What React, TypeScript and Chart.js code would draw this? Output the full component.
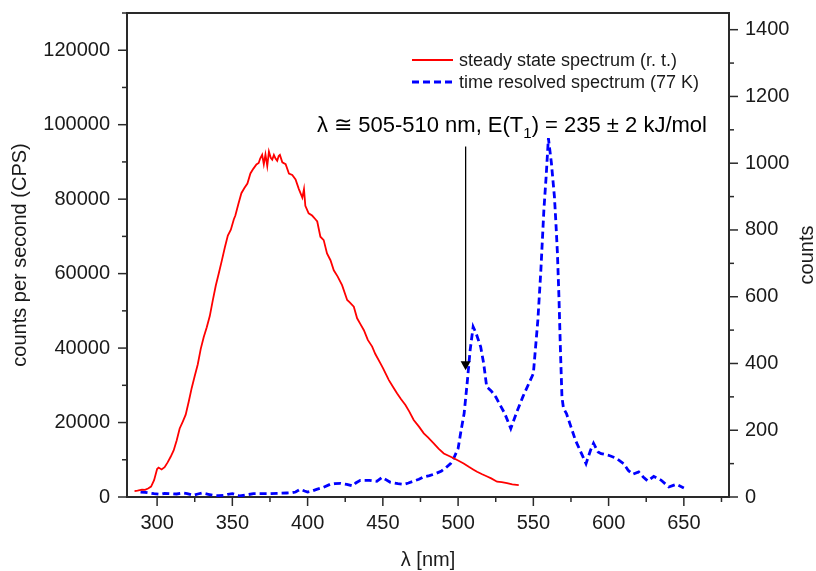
import React, { useEffect, useRef } from "react";
import { Chart, registerables } from "chart.js";

Chart.register(...registerables);

// ---- data ----
const steadyWavelengths = [
  285, 287, 290, 292, 294, 296, 298, 300, 301, 303, 305, 307, 309, 311, 313, 315, 317, 319, 321, 323,
  325, 327, 329, 331, 333, 335, 337, 339, 341, 343, 345, 347, 349, 351, 352, 354, 356, 358, 360, 362,
  364, 366, 367.5, 368.5, 369.8, 370.9, 372, 373.2, 374.3, 375.5, 376.5, 377.6, 378.7, 379.8, 380.8, 381.6, 383.2, 385.4, 387.6, 389.8,
  392, 394.2, 396.5, 397.6, 398.5, 400.7, 403, 405.2, 406.4, 408.5, 410.7, 412.9, 415.2, 417.4, 420, 422.9, 426.3, 428, 430.7, 432.9,
  435, 437.4, 440, 442.9, 445, 448.4, 450, 451.8, 454, 457, 459.5, 462, 465, 467.5, 470.5, 474, 477.2, 480, 483.8, 487,
  490.5, 494, 497.1, 500, 503.7, 507.1, 510, 512.6, 516, 519.3, 522, 525.9, 529, 532.5, 536, 540.3,
];
const steadyCounts = [
  1600, 1700, 2000, 1900, 2300, 2800, 4500, 7500, 7900, 7400, 8000, 9300, 10800, 12500, 15200, 18400, 20200, 22100, 25600, 29300,
  32500, 35600, 39800, 43000, 45600, 48600, 52800, 56800, 60100, 63500, 67000, 70200, 71800, 74600, 75600, 78700, 81600, 83000, 84200, 86900,
  88200, 89300, 89700, 90900, 91900, 89400, 92000, 88900, 92800, 91100, 90600, 91900, 90900, 90300, 91600, 91900, 89900, 89400, 86900, 86500,
  85300, 82700, 80400, 82700, 78200, 76200, 75600, 74600, 74000, 69900, 69000, 65400, 63600, 60900, 59200, 56900, 52900, 52300, 51100, 48000,
  46500, 44800, 42200, 40400, 38400, 35900, 34700, 33200, 31400, 29400, 27800, 26300, 24700, 23000, 20700, 18900, 17100, 16000, 14400, 13000,
  11700, 11000, 10400, 9800, 9000, 8100, 7400, 6800, 6100, 5500, 5000, 4100, 4000, 3700, 3400, 3200,
];

const resolvedWavelengths = [
  289, 292, 295, 298, 302, 305, 309, 313, 317, 320, 324, 327, 330, 334, 337, 341, 344, 347, 350, 353,
  355, 359, 364, 370, 375, 380, 386, 390, 392, 395, 398, 400, 403, 406, 410, 415, 418, 422, 426, 430,
  432, 435, 441, 446, 449.5, 452, 455, 460, 464, 467, 470, 474, 477, 481, 485, 489, 492, 495, 497, 500,
  502, 504, 506, 508, 510, 512, 515, 517, 519, 522, 525, 528, 531, 535, 539, 543, 547, 550, 553, 555,
  557, 558.5, 560, 562, 564, 565, 566, 567, 568, 569, 570, 572, 575, 578, 581, 583, 585, 588, 590, 593,
  595, 600, 605, 610, 613, 616, 620, 623, 626, 630, 635, 640, 643, 645, 650,
];
const resolvedCounts = [
  15, 14, 12, 10, 8, 11, 10, 9, 12, 10, 5, 9, 12, 8, 5, 4, 5, 8, 10, 6,
  3, 6, 10, 10, 10, 11, 12, 13, 15, 23, 18, 15, 18, 23, 28, 38, 40, 41, 38, 33,
  42, 50, 50, 47, 59, 52, 44, 40, 38, 42, 47, 53, 60, 64, 70, 78, 88, 100, 115, 145,
  200, 250, 340, 440, 510, 490, 450, 400, 330, 318, 300, 275, 250, 205, 255, 300, 340, 370, 530, 680,
  860, 960, 1075, 1000, 900, 820, 730, 600, 440, 300, 266, 250, 210, 170, 140, 120, 100, 140, 161, 135,
  130, 125, 116, 100, 80, 68, 75, 60, 48, 62, 50, 30, 35, 38, 27,
];

const xMajorTicks = [300, 350, 400, 450, 500, 550, 600, 650];
const xMinorTicks = [325, 375, 425, 475, 525, 575, 625, 675];
const leftMajorTicks = [0, 20000, 40000, 60000, 80000, 100000, 120000];
const leftMinorTicks = [10000, 30000, 50000, 70000, 90000, 110000, 130000];
const rightMajorTicks = [0, 200, 400, 600, 800, 1000, 1200, 1400];
const rightMinorTicks = [100, 300, 500, 700, 900, 1100, 1300];

const seriesLabels = ["steady state spectrum (r. t.)", "time resolved spectrum (77 K)"];
const annotationParts = ["λ ≅ 505-510 nm, E(T", "1", ") = 235 ± 2 kJ/mol"];
const arrowWavelength = 505;
const arrowFromCounts = 1050;
const arrowToCounts = 380;

const FONT = "'Liberation Sans', Arial, Helvetica, sans-serif";
const INK = "#1a1a1a";
const AXIS = "#2a2a2a";

const buildTicks = (major: number[], minor: number[]) => (scale: any) => {
  scale.ticks = [...major, ...minor].sort((a, b) => a - b).map((v) => ({ value: v }));
};

const fixWidth = (w: number | null, h: number | null) => (scale: any) => {
  if (w !== null) scale.width = w;
  if (h !== null) scale.height = h;
  scale.paddingTop = 0;
  scale.paddingBottom = 0;
  scale.paddingLeft = 0;
  scale.paddingRight = 0;
};

const framePlugin = {
  id: "frame",
  afterDatasetsDraw(chart: any) {
    const ctx = chart.ctx;
    const area = chart.chartArea;
    const sx = chart.scales.x;
    const sy = chart.scales.y;
    const sy1 = chart.scales.y1;
    ctx.save();
    // top frame line
    ctx.strokeStyle = AXIS;
    ctx.lineWidth = 2;
    ctx.beginPath();
    ctx.moveTo(area.left - 1, area.top);
    ctx.lineTo(area.right + 1, area.top);
    ctx.stroke();
    // tick marks
    const drawTicks = (scale: any, major: number[], dir: string) => {
      scale.ticks.forEach((t: any) => {
        const isMajor = major.includes(t.value);
        const len = isMajor ? 9 : 5;
        const p = scale.getPixelForValue(t.value);
        ctx.beginPath();
        if (dir === "down") {
          ctx.moveTo(p, area.bottom);
          ctx.lineTo(p, area.bottom + len);
        } else if (dir === "left") {
          ctx.moveTo(area.left, p);
          ctx.lineTo(area.left - len, p);
        } else {
          ctx.moveTo(area.right, p);
          ctx.lineTo(area.right + len, p);
        }
        ctx.stroke();
      });
    };
    ctx.lineWidth = 1.5;
    drawTicks(sx, xMajorTicks, "down");
    drawTicks(sy, leftMajorTicks, "left");
    drawTicks(sy1, rightMajorTicks, "right");

    // right axis title (reads bottom to top)
    ctx.fillStyle = INK;
    ctx.font = `20px ${FONT}`;
    ctx.textAlign = "center";
    ctx.textBaseline = "middle";
    ctx.translate(sy1.right - 9, (area.top + area.bottom) / 2);
    ctx.rotate(-Math.PI / 2);
    ctx.fillText("counts", 0, 0);
    ctx.restore();

    // legend
    ctx.save();
    ctx.font = `18px ${FONT}`;
    ctx.textAlign = "left";
    ctx.textBaseline = "middle";
    chart.data.datasets.forEach((ds: any, i: number) => {
      const y = 60 + i * 22;
      ctx.strokeStyle = ds.borderColor;
      ctx.lineWidth = ds.borderWidth;
      ctx.setLineDash(ds.borderDash || []);
      ctx.beginPath();
      ctx.moveTo(412, y);
      ctx.lineTo(453, y);
      ctx.stroke();
      ctx.setLineDash([]);
      ctx.fillStyle = INK;
      ctx.fillText(ds.label, 459, y + 1);
    });
    ctx.restore();

    // annotation text
    ctx.save();
    ctx.fillStyle = "#000";
    ctx.textAlign = "left";
    ctx.textBaseline = "alphabetic";
    let x = 317;
    const base = 132;
    ctx.font = `22px ${FONT}`;
    ctx.fillText(annotationParts[0], x, base);
    x += ctx.measureText(annotationParts[0]).width;
    ctx.font = `15px ${FONT}`;
    ctx.fillText(annotationParts[1], x, base + 6);
    x += ctx.measureText(annotationParts[1]).width;
    ctx.font = `22px ${FONT}`;
    ctx.fillText(annotationParts[2], x, base);

    // arrow
    const ax = sx.getPixelForValue(arrowWavelength);
    const ay0 = sy1.getPixelForValue(arrowFromCounts);
    const ay1 = sy1.getPixelForValue(arrowToCounts);
    ctx.strokeStyle = "#000";
    ctx.lineWidth = 1.3;
    ctx.beginPath();
    ctx.moveTo(ax, ay0);
    ctx.lineTo(ax, ay1 - 8);
    ctx.stroke();
    ctx.fillStyle = "#000";
    ctx.beginPath();
    ctx.moveTo(ax - 5, ay1 - 9);
    ctx.lineTo(ax + 5, ay1 - 9);
    ctx.lineTo(ax, ay1);
    ctx.closePath();
    ctx.fill();
    ctx.restore();
  },
};

export default function App() {
  const canvasRef = useRef<HTMLCanvasElement | null>(null);

  useEffect(() => {
    if (!canvasRef.current) return;
    const tickFont = { family: FONT, size: 20 };
    const chart = new Chart(canvasRef.current, {
      type: "line",
      data: {
        datasets: [
          {
            label: seriesLabels[0],
            data: steadyWavelengths.map((w, i) => ({ x: w, y: steadyCounts[i] })),
            borderColor: "#ff0000",
            borderWidth: 1.8,
            pointRadius: 0,
            tension: 0,
            yAxisID: "y",
          },
          {
            label: seriesLabels[1],
            data: resolvedWavelengths.map((w, i) => ({ x: w, y: resolvedCounts[i] })),
            borderColor: "#0000ff",
            borderWidth: 2.8,
            borderDash: [7, 4],
            pointRadius: 0,
            tension: 0,
            yAxisID: "y1",
          },
        ],
      },
      options: {
        responsive: false,
        animation: false,
        layout: { padding: { top: 13, left: 0, right: 0, bottom: 0 } },
        plugins: { legend: { display: false }, tooltip: { enabled: false } },
        scales: {
          x: {
            type: "linear",
            min: 280,
            max: 680,
            afterBuildTicks: buildTicks(xMajorTicks, xMinorTicks),
            afterFit: fixWidth(null, 74),
            grid: { display: false, drawTicks: false },
            border: { display: true, color: AXIS, width: 2 },
            ticks: {
              autoSkip: false,
              maxRotation: 0,
              padding: 14,
              color: INK,
              font: tickFont,
              callback: (v: any) => (xMajorTicks.includes(v) ? String(v) : ""),
            },
            title: { display: true, text: "λ [nm]", color: INK, font: tickFont, padding: { top: 0, bottom: -1 } },
          },
          y: {
            type: "linear",
            position: "left",
            min: 0,
            max: 130000,
            afterBuildTicks: buildTicks(leftMajorTicks, leftMinorTicks),
            afterFit: fixWidth(127, null),
            grid: { display: false, drawTicks: false },
            border: { display: true, color: AXIS, width: 2 },
            ticks: {
              autoSkip: false,
              padding: 17,
              color: INK,
              font: tickFont,
              callback: (v: any) => (leftMajorTicks.includes(v) ? String(v) : ""),
            },
            title: {
              display: true,
              text: "counts per second (CPS)",
              color: INK,
              font: tickFont,
              padding: { top: 8, bottom: 0 },
            },
          },
          y1: {
            type: "linear",
            position: "right",
            min: 0,
            max: 1450,
            afterBuildTicks: buildTicks(rightMajorTicks, rightMinorTicks),
            afterFit: fixWidth(87, null),
            grid: { display: false, drawTicks: false },
            border: { display: true, color: AXIS, width: 2 },
            ticks: {
              autoSkip: false,
              padding: 16,
              color: INK,
              font: tickFont,
              callback: (v: any) => (rightMajorTicks.includes(v) ? String(v) : ""),
            },
          },
        },
      },
      plugins: [framePlugin],
    } as any);
    return () => chart.destroy();
  }, []);

  return (
    <div style={{ position: "absolute", left: 0, top: 0, width: 816, height: 571, background: "#fff" }}>
      <canvas ref={canvasRef} width={816} height={571} style={{ display: "block" }} />
    </div>
  );
}
